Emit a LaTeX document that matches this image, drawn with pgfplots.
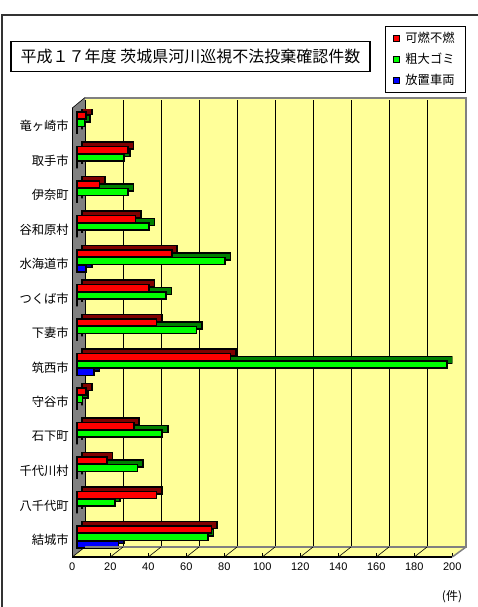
\documentclass[border=0pt]{standalone}
\usepackage{pgfplots}
\pgfplotsset{compat=1.18}
\usepackage{pgfplotstable}
\usepackage{fontspec}
\setmainfont{Liberation Sans}
\newfontfamily\jp{Noto Sans CJK JP}
\definecolor{wall}{HTML}{FFFF99}
\definecolor{wallgray}{HTML}{808080}
\definecolor{rf}{HTML}{FF0000}\definecolor{rd}{HTML}{800000}
\definecolor{gf}{HTML}{00FF00}\definecolor{gd}{HTML}{008000}
\definecolor{bf}{HTML}{0000FF}\definecolor{bd}{HTML}{000080}

\pgfplotstableread{
j r g b
0 71 69 22
1 42 20 0
2 16 32 0
3 30 45 0
4 5 3 0
5 81 195 9
6 42 63 0
7 38 47 0
8 50 78 5
9 31 38 0
10 12 27 0
11 27 25 0
12 5 4 0
}\data

\begin{document}
\begin{tikzpicture}[x=1pt,y=1pt]
\useasboundingbox (0,0) rectangle (478,607);
% outer frame
\draw[black!80, line width=1.6pt] (2,-10) -- (2,592) -- (490,592);
% back wall, floor, side wall
\fill[wall] (85,60) rectangle (466,509);
\fill[wall] (72.3,50) -- (452.3,50) -- (466,60) -- (85,60) -- cycle;
\fill[wallgray] (72.3,50) -- (72.3,499) -- (85,509.5) -- (85,60) -- cycle;
% title
\node[draw=black, line width=1.5pt, minimum width=359pt, minimum height=30pt, inner sep=0pt,
      font=\jp\fontsize{16}{18}\selectfont] at (190.5,550.3) {平成１７年度 茨城県河川巡視不法投棄確認件数};
% unit
\node[font=\jp\fontsize{12}{14}\selectfont] at (452,10) {(件)};

\begin{axis}[
  at={(72.3pt,50pt)}, anchor=south west,
  scale only axis, width=380pt, height=447pt,
  xmin=0, xmax=200, ymin=-0.58, ymax=12.377,
  xbar, bar width=7pt,
  axis line style={draw=none},
  xtick={0,20,...,200}, xtick pos=bottom, tick align=inside,
  major tick length=4pt, xtick style={black, line width=0.6pt},
  ytick={0,...,12}, ytick style={draw=none},
  yticklabels={結城市,八千代町,千代川村,石下町,守谷市,筑西市,下妻市,つくば市,水海道市,谷和原村,伊奈町,取手市,竜ヶ崎市},
  yticklabel style={font=\jp\fontsize{12.3}{14}\selectfont, yshift=-3pt},
  xticklabel style={font=\fontsize{11}{13}\selectfont, yshift=-2.5pt},
  /pgf/number format/assume math mode=true,
  xmajorgrids, major grid style={black, line width=0.8pt, xshift=12.7pt, yshift=10pt},
  legend image code/.code={\draw[#1] (0pt,-3pt) rectangle (6pt,3pt);},
  legend style={at={(0.8229,1.1879)}, anchor=north west, draw=black, line width=0.8pt,
    font=\jp\fontsize{12.3}{14}\selectfont, row sep=2.5pt, inner xsep=8pt, inner ysep=3pt,
    nodes={inner sep=3.2pt}, /tikz/every odd column/.append style={column sep=2pt}},
  legend cell align=left,
]
% blue
\addplot[forget plot, bar shift=-7.5pt, fill=bd, draw=black, line width=1.6pt, xshift=9.9pt, yshift=4.5pt] table[x=b,y=j]{\data};
\addplot[forget plot, bar shift=-7.5pt, fill=bf, draw=black, line width=1.6pt, xshift=4.4pt] table[x=b,y=j]{\data};
% green
\addplot[forget plot, bar shift=0pt, fill=gd, draw=black, line width=1.6pt, xshift=9.9pt, yshift=4.5pt] table[x=g,y=j]{\data};
\addplot[forget plot, bar shift=0pt, fill=gf, draw=black, line width=1.6pt, xshift=4.4pt] table[x=g,y=j]{\data};
% red
\addplot[forget plot, bar shift=7.5pt, fill=rd, draw=black, line width=1.6pt, xshift=9.9pt, yshift=4.5pt] table[x=r,y=j]{\data};
\addplot[forget plot, bar shift=7.5pt, fill=rf, draw=black, line width=1.6pt, xshift=4.4pt] table[x=r,y=j]{\data};
\addlegendimage{fill=rf, draw=black, line width=0.8pt}
\addlegendentry{可燃不燃}
\addlegendimage{fill=gf, draw=black, line width=0.8pt}
\addlegendentry{粗大ゴミ}
\addlegendimage{fill=bf, draw=black, line width=0.8pt}
\addlegendentry{放置車両}
\end{axis}

% wall borders
\draw[wallgray, line width=2.5pt] (85,509) -- (466,509) -- (466,60) -- (85,60);
\draw[wallgray, line width=1.5pt] (452.3,50) -- (466,60);
% front edges
\draw[black, line width=1.2pt] (72.3,499) -- (72.3,50) -- (452.3,50);
\draw[black, line width=0.6pt] (72.3,499) -- (85,509.5);
\foreach \v in {0,20,...,180} {
  \draw[black, line width=0.6pt] ({72.3+1.9*\v},50) -- ({85+1.9*\v},60);
}
\end{tikzpicture}
\end{document}
